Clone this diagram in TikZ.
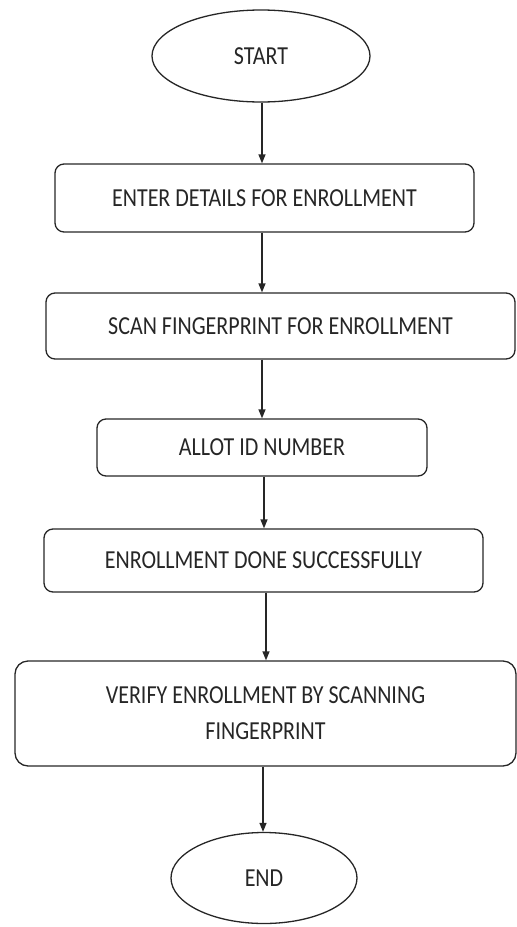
\documentclass[tikz,border=0pt]{standalone}
\usepackage{graphicx}
\usepackage{fontspec}
\setmainfont{Carlito}
\usetikzlibrary{shapes.geometric,arrows.meta}
\newcommand{\talltext}[1]{\scalebox{1}[1.18]{#1}}
\begin{document}
\begin{tikzpicture}[x=1pt,y=-1pt,
  every node/.style={font=\fontsize{22}{36}\selectfont, text=black!85, inner sep=0pt},
  term/.style={ellipse, draw=black!85, line width=1.3pt},
  procbox/.style={rectangle, rounded corners=9pt, draw=black!85, line width=1.3pt, align=center},
  arr/.style={draw=black!85, line width=1.3pt, -{Triangle[length=9pt,width=7pt]}}]
\useasboundingbox (0,0) rectangle (517,927);
\node[term, minimum width=218pt, minimum height=92pt] (start) at (261,56) {\talltext{START}};
\node[procbox, minimum width=419pt, minimum height=68pt] (b1) at (264.5,198) {\talltext{ENTER DETAILS FOR ENROLLMENT}};
\node[procbox, minimum width=469pt, minimum height=66pt] (b2) at (280.5,326) {\talltext{SCAN FINGERPRINT FOR ENROLLMENT}};
\node[procbox, minimum width=330pt, minimum height=57pt] (b3) at (262,447.5) {\talltext{ALLOT ID NUMBER}};
\node[procbox, minimum width=439pt, minimum height=63pt] (b4) at (263.5,560.5) {\talltext{ENROLLMENT DONE SUCCESSFULLY}};
\node[procbox, rounded corners=13pt, minimum width=501pt, minimum height=105pt] (b5) at (265.5,713.5) {\talltext{VERIFY ENROLLMENT BY SCANNING}\\\talltext{FINGERPRINT}};
\node[term, minimum width=186pt, minimum height=91pt] (end) at (264,878) {\talltext{END}};
\draw[arr] ([xshift=1pt]start.south) -- ([xshift=1pt]start.south |- b1.north);
\draw[arr] ([xshift=1pt]b1.south -| start.south) -- ([xshift=1pt]b2.north -| start.south);
\draw[arr] ([xshift=1pt]b2.south -| start.south) -- ([xshift=1pt]b3.north -| start.south);
\draw[arr] ([xshift=2pt]b3.south) -- ([xshift=2pt]b3.south |- b4.north);
\draw[arr] ([xshift=2.5pt]b4.south) -- ([xshift=2.5pt]b4.south |- b5.north);
\draw[arr] ([xshift=-1pt]end.north |- b5.south) -- ([xshift=-1pt]end.north);
\end{tikzpicture}
\end{document}
